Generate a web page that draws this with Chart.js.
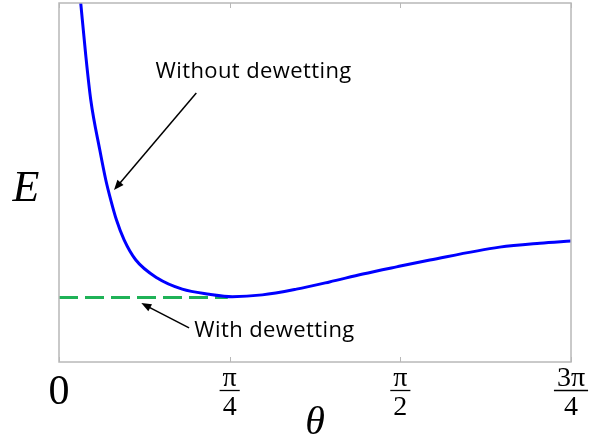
<!DOCTYPE html>
<html>
<head>
<meta charset="utf-8">
<script src="https://cdn.jsdelivr.net/npm/chart.js@4.4.0/dist/chart.umd.min.js"></script>
<style>
  html, body { margin: 0; padding: 0; background: #fff; }
  #wrap { width: 596px; height: 439px; }
</style>
</head>
<body>
<div id="wrap"><canvas id="energy-chart"></canvas></div>
<script>
// theta in degrees (0 .. 135 = 3pi/4), energy in arbitrary units
var thetaDeg = [5.1, 5.73, 7.05, 8.38, 10.75, 12.34, 13.66, 15.14, 17.17, 20.26, 25.9, 32.5, 39.6, 45.7, 53.6, 62.6, 71.3, 80.1, 89.0, 97.8, 116.2, 126.8, 135];
var energy = [10.7, 10.0, 8.55, 7.30, 5.91, 5.07, 4.51, 3.96, 3.40, 2.84, 2.34, 2.03, 1.89, 1.82, 1.87, 2.03, 2.23, 2.45, 2.65, 2.84, 3.20, 3.31, 3.37];

var dewetTheta = [0, 44.5];
var dewetEnergy = [1.80, 1.80];

var tickValues = [0, 45, 90, 135];
var tickNum = ['0', 'π', 'π', '3π'];
var tickDen = [null, '4', '2', '4'];

// annotations: text position, arrow tail, arrow tip (in data units)
var notes = [
  { text: 'Without dewetting', at: [51.3, 8.08], tail: [36.2, 7.49], tip: [14.5, 4.79] },
  { text: 'With dewetting', at: [56.8, 0.86], tail: [34.3, 0.95], tip: [21.7, 1.64] }
];

function toPoints(xs, ys) {
  return xs.map(function (x, i) { return { x: x, y: ys[i] }; });
}

function arrow(ctx, x1, y1, x2, y2) {
  var a = Math.atan2(y2 - y1, x2 - x1);
  var len = 10, w = 4;
  ctx.beginPath();
  ctx.moveTo(x1, y1);
  ctx.lineTo(x2 - Math.cos(a) * len * 0.8, y2 - Math.sin(a) * len * 0.8);
  ctx.stroke();
  ctx.beginPath();
  ctx.moveTo(x2, y2);
  ctx.lineTo(x2 - Math.cos(a) * len - Math.sin(a) * w, y2 - Math.sin(a) * len + Math.cos(a) * w);
  ctx.lineTo(x2 - Math.cos(a) * len + Math.sin(a) * w, y2 - Math.sin(a) * len - Math.cos(a) * w);
  ctx.closePath();
  ctx.fill();
}

var decorations = {
  id: 'decorations',
  afterDraw: function (chart) {
    var ctx = chart.ctx;
    var area = chart.chartArea;
    var xs = chart.scales.x, ys = chart.scales.y;
    ctx.save();

    // frame
    ctx.strokeStyle = '#b8b8b8';
    ctx.lineWidth = 1.5;
    ctx.strokeRect(area.left, area.top, area.right - area.left, area.bottom - area.top);

    // small inward ticks
    ctx.lineWidth = 1;
    tickValues.forEach(function (v) {
      var px = Math.round(xs.getPixelForValue(v)) + 0.5;
      ctx.beginPath();
      ctx.moveTo(px, area.bottom); ctx.lineTo(px, area.bottom - 5);
      ctx.moveTo(px, area.top); ctx.lineTo(px, area.top + 5);
      ctx.stroke();
    });

    // tick labels
    ctx.fillStyle = '#000';
    ctx.strokeStyle = '#000';
    ctx.textAlign = 'center';
    ctx.textBaseline = 'middle';
    tickValues.forEach(function (v, i) {
      var px = xs.getPixelForValue(v);
      if (!tickDen[i]) {
        ctx.font = '42px "Liberation Serif"';
        ctx.fillText(tickNum[i], px, area.bottom + 31);
        return;
      }
      ctx.font = '28px "Liberation Serif"';
      var w = Math.max(ctx.measureText(tickNum[i]).width, ctx.measureText(tickDen[i]).width) + 6;
      ctx.fillText(tickNum[i], px, area.bottom + 17);
      ctx.lineWidth = 1.3;
      ctx.beginPath();
      ctx.moveTo(px - w / 2, area.bottom + 28.5);
      ctx.lineTo(px + w / 2, area.bottom + 28.5);
      ctx.stroke();
      ctx.fillText(tickDen[i], px, area.bottom + 46);
    });

    // axis titles
    ctx.font = 'italic 40px "Liberation Serif"';
    ctx.fillText('θ', xs.getPixelForValue(67.5), area.bottom + 61);
    ctx.font = 'italic 44px "Liberation Serif"';
    ctx.fillText('E', area.left - 33, ys.getPixelForValue(4.8));

    // annotations
    ctx.font = '22px "Open Sans"';
    ctx.letterSpacing = '0.4px';
    ctx.lineWidth = 1.5;
    notes.forEach(function (n) {
      ctx.fillText(n.text, xs.getPixelForValue(n.at[0]), ys.getPixelForValue(n.at[1]));
      arrow(ctx,
        xs.getPixelForValue(n.tail[0]), ys.getPixelForValue(n.tail[1]),
        xs.getPixelForValue(n.tip[0]), ys.getPixelForValue(n.tip[1]));
    });
    ctx.restore();
  }
};

new Chart(document.getElementById('energy-chart'), {
  type: 'line',
  data: {
    datasets: [{
      label: 'Without dewetting',
      data: toPoints(thetaDeg, energy),
      borderColor: '#0000ff',
      borderWidth: 3,
      pointRadius: 0,
      cubicInterpolationMode: 'monotone',
      fill: false
    }, {
      label: 'With dewetting',
      data: toPoints(dewetTheta, dewetEnergy),
      borderColor: '#1fb257',
      borderWidth: 3,
      borderDash: [19, 7],
      pointRadius: 0,
      fill: false
    }]
  },
  options: {
    responsive: true,
    maintainAspectRatio: false,
    animation: false,
    layout: { padding: { left: 59, right: 25, top: 3, bottom: 77 } },
    plugins: { legend: { display: false }, tooltip: { enabled: false } },
    scales: {
      x: { type: 'linear', min: 0, max: 135, display: false },
      y: { type: 'linear', min: 0, max: 10, display: false }
    }
  },
  plugins: [decorations]
});
</script>
</body>
</html>
